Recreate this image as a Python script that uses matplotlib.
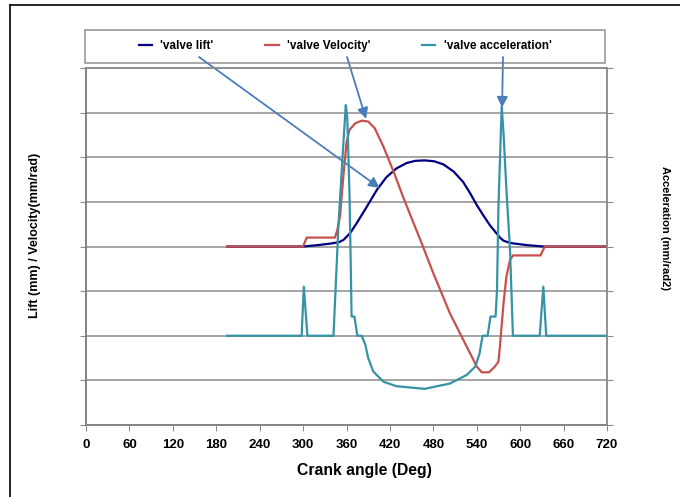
import matplotlib
matplotlib.use("Agg")
import matplotlib.pyplot as plt
from matplotlib.lines import Line2D
from matplotlib.patches import Rectangle

plt.rcParams['font.family'] = ['Liberation Sans', 'DejaVu Sans']
plt.rcParams['font.weight'] = 'bold'

# valve lift (grid units on left axis)
lift_angle = [195, 300, 320, 340, 350, 356, 365, 374, 388, 402, 415, 429, 443, 455, 468,
              481, 494, 508, 521, 531, 540, 549, 558, 567, 572, 577, 584, 590, 610, 632, 720]
lift_value = [4.0, 4.0, 4.03, 4.07, 4.10, 4.15, 4.30, 4.52, 4.89, 5.27, 5.55, 5.75, 5.87, 5.92, 5.93,
              5.91, 5.84, 5.68, 5.45, 5.19, 4.93, 4.70, 4.48, 4.30, 4.20, 4.13, 4.09, 4.07, 4.03, 4.0, 4.0]

# valve velocity
vel_angle = [195, 300, 305, 344, 347, 351, 356, 360, 364, 372, 381, 390, 399, 411, 425, 438,
             452, 462, 480, 503, 526, 540, 547, 557, 565, 570, 572, 577, 581, 586, 590, 628, 634, 720]
vel_value = [4.0, 4.0, 4.2, 4.2, 4.35, 4.67, 5.64, 6.32, 6.61, 6.76, 6.82, 6.80, 6.65, 6.24, 5.68, 5.12,
             4.55, 4.15, 3.40, 2.50, 1.76, 1.31, 1.18, 1.18, 1.31, 1.42, 1.76, 2.73, 3.33, 3.70, 3.80, 3.80, 4.0, 4.0]

# valve acceleration (right axis)
acc_angle = [195, 298, 301, 306, 342, 349, 356, 359, 361, 364, 366, 367, 371, 375, 381, 386, 390,
             397, 406, 411, 429, 468, 503, 526, 538, 544, 548, 555, 559, 566, 568, 570, 574.5,
             577, 581, 586, 590, 627, 632, 636, 720]
acc_value = [2.0, 2.0, 3.1, 2.0, 2.0, 4.52, 6.39, 7.17, 6.9, 5.27, 3.48, 2.43, 2.43, 2.0, 2.0, 1.8, 1.5,
             1.2, 1.05, 0.97, 0.87, 0.81, 0.93, 1.12, 1.31, 1.61, 2.0, 2.0, 2.43, 2.43, 3.03, 4.9, 7.14,
             6.54, 5.27, 3.92, 2.0, 2.0, 3.1, 2.0, 2.0]

x_ticks = list(range(0, 721, 60))
y_ticks = list(range(0, 9))

fig = plt.figure(figsize=(6.8, 4.97), dpi=100)
ax = fig.add_axes([86 / 680, 72 / 497, 521 / 680, 357 / 497])
ax2 = ax.twinx()

grid_c = '#8c8c8c'
ax.set_xlim(0, 720)
ax.set_ylim(0, 8)
ax2.set_ylim(0, 8)
ax.set_xticks(x_ticks)
ax.set_yticks(y_ticks)
ax2.set_yticks(y_ticks)
ax.set_yticklabels([])
ax2.set_yticklabels([])
ax.grid(axis='y', color=grid_c, lw=1.1)
ax.set_axisbelow(True)
ax.tick_params(axis='x', direction='out', length=4, width=0.8, color=grid_c, pad=6, labelsize=9.5)
ax.tick_params(axis='y', direction='out', length=4, width=0.8, color=grid_c)
ax2.tick_params(axis='y', direction='out', length=4, width=0.8, color=grid_c)
for a in (ax, ax2):
    for s in a.spines.values():
        s.set_color(grid_c)
        s.set_linewidth(1.1)
ax.spines['left'].set_color('#444444')
ax.spines['bottom'].set_color('#555555')
for lbl in ax.get_xticklabels():
    lbl.set_fontweight('bold')

l1, = ax.plot(lift_angle, lift_value, color='#000080', lw=1.6, label="'valve lift'")
l2, = ax.plot(vel_angle, vel_value, color='#C8504A', lw=1.6, label="'valve Velocity'")
l3, = ax2.plot(acc_angle, acc_value, color='#3692A6', lw=1.6, label="'valve acceleration'")

# legend box
fig.patches.append(Rectangle((85 / 680, 1 - 63 / 497), 520 / 680, 33 / 497,
                             transform=fig.transFigure, facecolor='white',
                             edgecolor='#999999', lw=1.2, zorder=-1))
fig.legend(handles=[l1, l2, l3], loc='center', bbox_to_anchor=(345 / 680, 1 - 46 / 497),
           ncol=3, frameon=False, handlelength=1.15, handletextpad=0.7,
           columnspacing=4.35, prop={'weight': 'bold', 'size': 8.5})

# arrows from legend to curves
arrow_kw = dict(arrowstyle='-|>', color='#4A7EBB', lw=1.3, mutation_scale=16,
                shrinkA=0, shrinkB=0)
ax.annotate('', xy=(406, 5.31), xycoords='data', xytext=(199 / 680, 1 - 57 / 497),
            textcoords='figure fraction', arrowprops=arrow_kw)
ax.annotate('', xy=(387, 6.86), xycoords='data', xytext=(347 / 680, 1 - 57 / 497),
            textcoords='figure fraction', arrowprops=arrow_kw)
ax.annotate('', xy=(575, 7.11), xycoords='data', xytext=(503 / 680, 1 - 57 / 497),
            textcoords='figure fraction', arrowprops=arrow_kw)

fig.text(364 / 680, 1 - 470 / 497, 'Crank angle (Deg)', ha='center', va='center',
         fontsize=11.3, fontweight='bold')
fig.text(35 / 680, 1 - 235 / 497, 'Lift (mm) / Velocity(mm/rad)', ha='center', va='center',
         rotation=90, fontsize=9, fontweight='bold')
fig.text(665 / 680, 1 - 228 / 497, 'Acceleration (mm/rad2)', ha='center', va='center',
         rotation=-90, fontsize=8, fontweight='bold')

# outer frame
fig.lines.append(Line2D([10 / 680, 10 / 680], [0, 1 - 5 / 497], transform=fig.transFigure,
                        color='black', lw=1.2))
fig.lines.append(Line2D([10 / 680, 1], [1 - 5 / 497, 1 - 5 / 497], transform=fig.transFigure,
                        color='black', lw=1.2))

fig.savefig('out.png', dpi=100)
